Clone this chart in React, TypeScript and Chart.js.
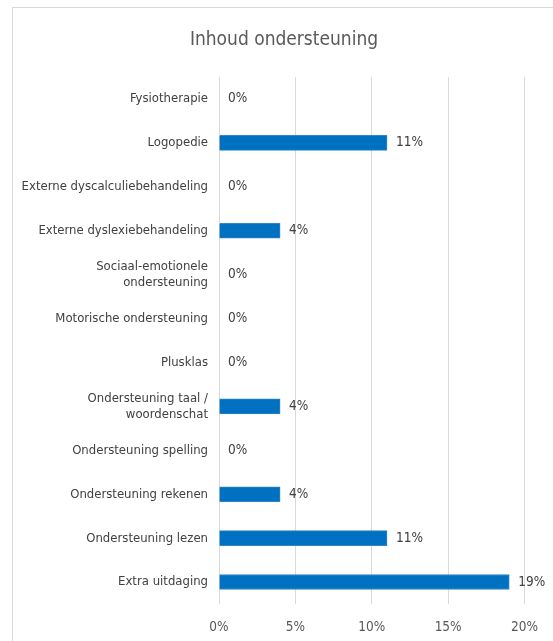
import React, { useEffect, useRef } from "react";
import { Chart, registerables } from "chart.js";

Chart.register(...registerables);

const TITLE = "Inhoud ondersteuning";
const categories: (string | string[])[] = [
  "Fysiotherapie",
  "Logopedie",
  "Externe dyscalculiebehandeling",
  "Externe dyslexiebehandeling",
  ["Sociaal-emotionele", "ondersteuning"],
  "Motorische ondersteuning",
  "Plusklas",
  ["Ondersteuning taal /", "woordenschat"],
  "Ondersteuning spelling",
  "Ondersteuning rekenen",
  "Ondersteuning lezen",
  "Extra uitdaging",
];
const values = [0, 11, 0, 4, 0, 0, 0, 4, 0, 4, 11, 19];
const xTicks = [0, 5, 10, 15, 20];

const FONT = "'DejaVu Sans Condensed', 'Liberation Sans Narrow', sans-serif";

export default function App() {
  const ref = useRef<HTMLCanvasElement | null>(null);
  useEffect(() => {
    document.body.style.margin = "0";
    const canvas = ref.current!;
    const framePlugin = {
      id: "frame",
      beforeDraw(chart: any) {
        const ctx = chart.ctx;
        ctx.save();
        ctx.fillStyle = "#ffffff";
        ctx.fillRect(0, 0, chart.width, chart.height);
        ctx.strokeStyle = "#d9d9d9";
        ctx.lineWidth = 1;
        ctx.strokeRect(12.5, 7.5, chart.width + 10, chart.height + 10);
        ctx.font = `19px ${FONT}`;
        ctx.fillStyle = "#595959";
        ctx.textAlign = "center";
        ctx.textBaseline = "middle";
        ctx.fillText(TITLE, 284, 40);
        ctx.restore();
      },
    };
    const labelPlugin = {
      id: "valueLabels",
      afterDatasetsDraw(chart: any) {
        const ctx = chart.ctx;
        const meta = chart.getDatasetMeta(0);
        ctx.save();
        ctx.font = `13.5px ${FONT}`;
        ctx.fillStyle = "#404040";
        ctx.textAlign = "left";
        ctx.textBaseline = "middle";
        meta.data.forEach((bar: any, i: number) => {
          ctx.fillText(values[i] + "%", bar.x + 9, bar.y);
        });
        ctx.restore();
      },
    };
    const chart = new Chart(canvas, {
      type: "bar",
      data: {
        labels: categories,
        datasets: [
          {
            data: values,
            backgroundColor: "#0070C0",
            borderColor: "#2f86c8",
            borderWidth: 1,
            barThickness: 15,
          },
        ],
      },
      options: {
        indexAxis: "y",
        animation: false,
        responsive: false,
        maintainAspectRatio: false,
        devicePixelRatio: 1,
        layout: { padding: { left: 12, top: 77, right: 26, bottom: 0 } },
        plugins: {
          legend: { display: false },
          title: { display: false },
          tooltip: { enabled: false },
        },
        scales: {
          x: {
            min: 0,
            max: 20,
            afterBuildTicks: (scale: any) => {
              scale.ticks = xTicks.map((v) => ({ value: v }));
            },
            afterFit: (scale: any) => {
              scale.height = 37;
            },
            grid: { color: "#d9d9d9", drawTicks: false },
            border: { display: false },
            ticks: {
              padding: 15,
              color: "#595959",
              font: { family: FONT, size: 13.5 },
              callback: (v: any) => v + "%",
            },
          },
          y: {
            afterFit: (scale: any) => {
              scale.width = 207;
            },
            grid: { display: false, drawTicks: false },
            border: { display: false },
            ticks: {
              padding: 11,
              color: "#404040",
              font: { family: FONT, size: 13, lineHeight: 1.23 },
              autoSkip: false,
            },
          },
        },
      },
      plugins: [framePlugin, labelPlugin],
    });
    return () => chart.destroy();
  }, []);
  return <canvas ref={ref} width={553} height={641} style={{ display: "block" }} />;
}
